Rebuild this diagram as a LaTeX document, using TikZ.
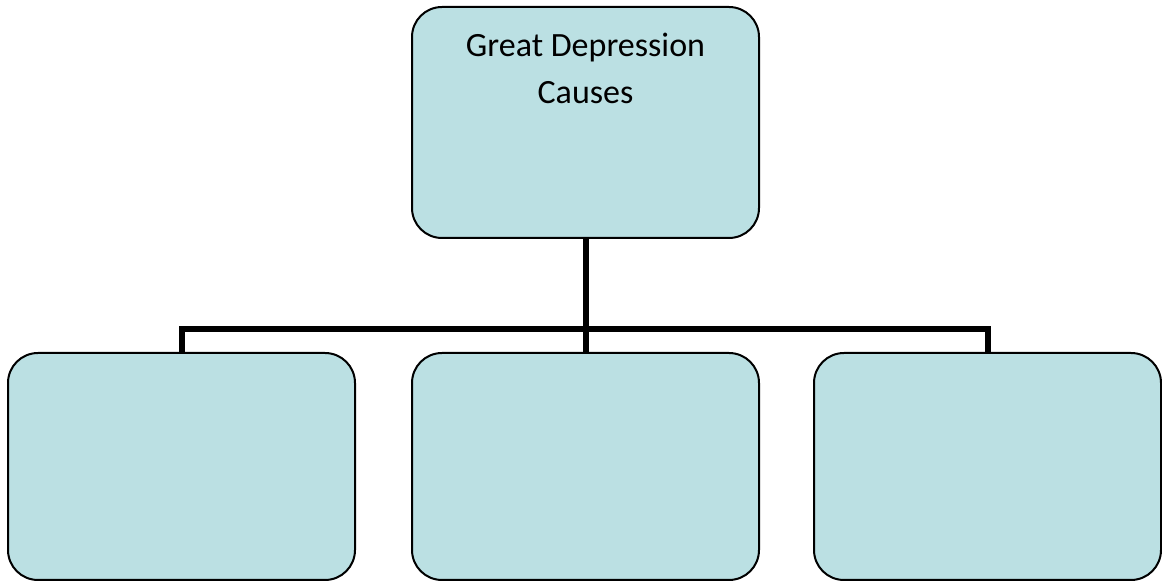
\documentclass[tikz,border=0pt]{standalone}
\usepackage{fontspec}
\setmainfont{Carlito}

\definecolor{boxfill}{RGB}{187,224,227}

\begin{document}
\begin{tikzpicture}[x=0.5pt,y=-0.5pt,
    causebox/.style={draw=black, line width=1pt, fill=boxfill,
      rounded corners=15pt, minimum width=173.5pt, inner sep=0pt},
    bar/.style={line width=3pt, line join=miter}]

    \useasboundingbox (0,0) rectangle (1162,581);

    \node[causebox, minimum height=115.5pt] (top) at (585.5,122.5) {};
    \node[causebox, minimum height=113.5pt] (left)  at (181.5,466.5) {};
    \node[causebox, minimum height=113.5pt] (mid)   at (585.5,466.5) {};
    \node[causebox, minimum height=113.5pt] (right) at (987.5,466.5) {};

    \node[align=center, anchor=north, inner sep=0pt,
      font=\fontsize{17}{23.5}\selectfont] (title) at (585.5,33)
      {Great Depression\\Causes};

    \coordinate (bus) at (top.south |- 0,329.5);

    \draw[bar] (top.south) -- (bus);
    \draw[bar] (left.north) |- (bus) -| (right.north);
    \draw[bar] (bus) -- (mid.north);
\end{tikzpicture}
\end{document}
